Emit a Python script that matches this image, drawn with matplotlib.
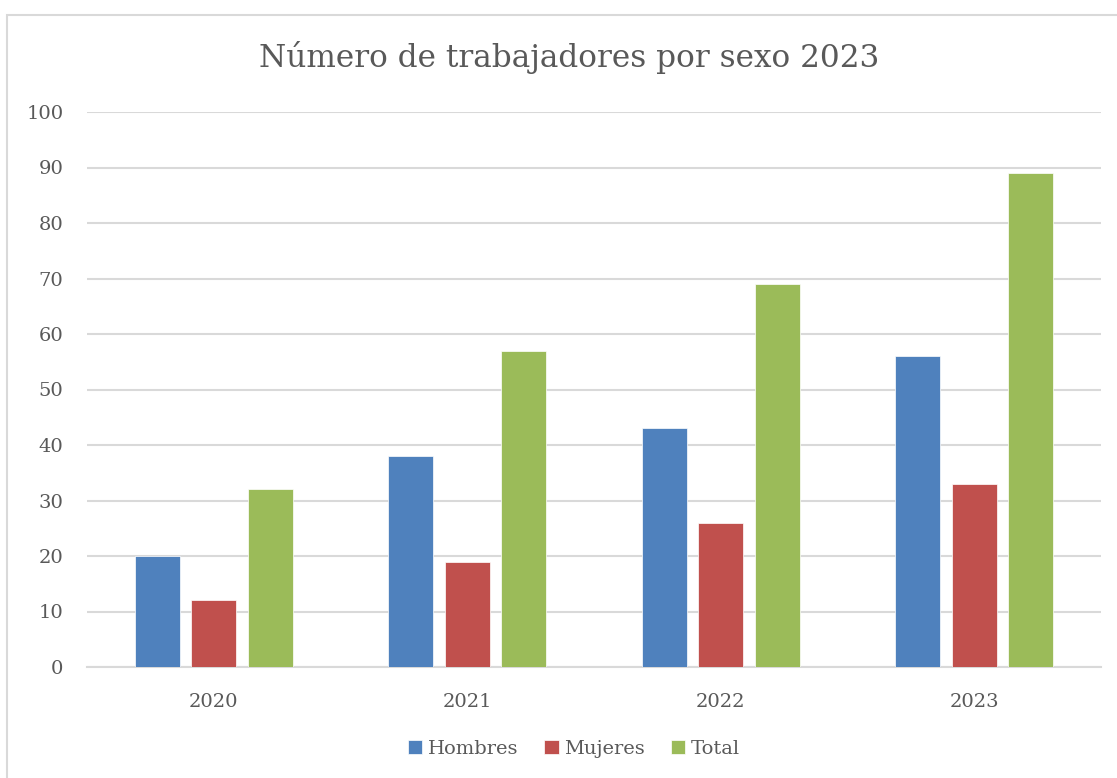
import numpy as np
import matplotlib.pyplot as plt
from matplotlib.patches import Rectangle

# data
years = ["2020", "2021", "2022", "2023"]
hombres = [20, 38, 43, 56]
mujeres = [12, 19, 26, 33]
total = [32, 57, 69, 89]

W, H = 1117, 778
plt.rcParams['font.family'] = ['DejaVu Serif']
txt = '#595959'

fig = plt.figure(figsize=(W / 100, H / 100), dpi=100, facecolor='w')

# outer chart frame (only left/top visible in the reference)
fig.patches.append(Rectangle((7 / W, -0.05), 1.2, 1 - 15 / H + 0.05,
                             transform=fig.transFigure, fill=False,
                             edgecolor='#D9D9D9', lw=1.5))

ax = fig.add_axes([87 / W, (H - 667) / H, (1101 - 87) / W, (667 - 112) / H])
x = np.arange(len(years))
step, bw = 0.223, 0.177
series = [("Hombres", hombres, '#4F81BD'),
          ("Mujeres", mujeres, '#C0504D'),
          ("Total", total, '#9BBB59')]
for i, (name, vals, col) in enumerate(series):
    ax.bar(x + (i - 1) * step, vals, bw, color=col, label=name,
           edgecolor='white', linewidth=0.5, zorder=3)

ax.set_xlim(-0.5, 3.5)
ax.set_ylim(0, 100)
ax.set_yticks(range(0, 101, 10))
ax.set_xticks(x)
ax.set_xticklabels(years)
ax.yaxis.grid(True, color='#D9D9D9', lw=1.5, zorder=0)
ax.set_axisbelow(True)
for s in ['top', 'right', 'left']:
    ax.spines[s].set_visible(False)
ax.spines['bottom'].set_color('#D9D9D9')
ax.spines['bottom'].set_linewidth(1.5)
ax.tick_params(axis='both', length=0, colors=txt, labelsize=14)
ax.tick_params(axis='y', pad=17)
ax.tick_params(axis='x', pad=19)

fig.text(569 / W, 1 - 58 / H, "Número de trabajadores por sexo 2023",
         ha='center', va='center', fontsize=22.4, color=txt)

fig.legend(loc='center', bbox_to_anchor=(574 / W, 1 - 749 / H), ncol=3,
           frameon=False, fontsize=14, handlelength=0.75, handleheight=0.75,
           handletextpad=0.3, columnspacing=1.3, labelcolor=txt)

fig.savefig('out.png', dpi=100, facecolor='w')
